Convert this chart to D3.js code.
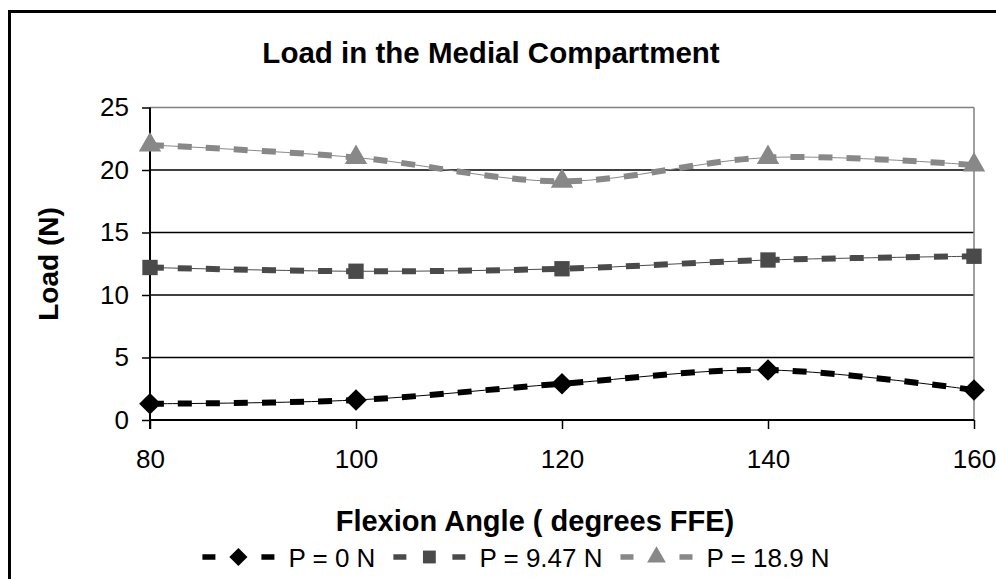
<!DOCTYPE html>
<html>
<head>
<meta charset="utf-8">
<script src="https://cdn.jsdelivr.net/npm/d3@7"></script>
<style>
  body { margin: 0; background: #fff; }
  text { font-family: "Liberation Sans", Arial, sans-serif; }
</style>
</head>
<body>
<svg id="chart" width="996" height="579"></svg>
<script>
var angles = [80, 100, 120, 140, 160];
var load0 = [1.3, 1.6, 2.9, 4.0, 2.4];
var load947 = [12.2, 11.9, 12.1, 12.8, 13.1];
var load189 = [22.0, 21.0, 19.1, 21.0, 20.4];
var seriesNames = ["P = 0 N", "P = 9.47 N", "P = 18.9 N"];
var yTicks = [0, 5, 10, 15, 20, 25];
var xTicks = [80, 100, 120, 140, 160];

var series = [
    { name: seriesNames[0], values: load0, color: "#000000", symbol: d3.symbolDiamond2, size: 300 },
    { name: seriesNames[1], values: load947, color: "#4a4a4a", symbol: d3.symbolSquare2, size: 300 },
    { name: seriesNames[2], values: load189, color: "#888888", symbol: d3.symbolTriangle2, size: 360 }
];

var svg = d3.select("#chart"),
    width = +svg.attr("width"),
    height = +svg.attr("height"),
    margin = { top: 107.5, right: 22, bottom: 159, left: 150 };

// outer chart border (runs off the right and bottom edges)
svg.append("rect")
    .attr("x", 9.5).attr("y", 11.5)
    .attr("width", 1000).attr("height", 600)
    .attr("fill", "none")
    .attr("stroke", "#000")
    .attr("stroke-width", 3);

var x = d3.scaleLinear()
    .domain([80, 160])
    .range([margin.left, width - margin.right]);

var y = d3.scaleLinear()
    .domain([0, 25])
    .range([height - margin.bottom, margin.top]);

// gridlines
svg.append("g")
    .selectAll("line")
    .data(yTicks.filter(function (d) { return d > 0; }))
    .enter().append("line")
    .attr("x1", x(80)).attr("x2", x(160))
    .attr("y1", function (d) { return y(d); })
    .attr("y2", function (d) { return y(d); })
    .attr("stroke", function (d) { return d === 25 ? "#808080" : "#000"; })
    .attr("stroke-width", 1.5);

// right plot border
svg.append("line")
    .attr("x1", x(160)).attr("x2", x(160))
    .attr("y1", y(25)).attr("y2", y(0))
    .attr("stroke", "#808080")
    .attr("stroke-width", 1.5);

// axes
var yAxis = svg.append("g")
    .attr("transform", "translate(" + x(80) + ",0)")
    .call(d3.axisLeft(y).tickValues(yTicks).tickSize(8).tickPadding(13));
var xAxis = svg.append("g")
    .attr("transform", "translate(0," + y(0) + ")")
    .call(d3.axisBottom(x).tickValues(xTicks).tickSize(9).tickPadding(21));

[yAxis, xAxis].forEach(function (g) {
    g.select(".domain").remove();
    g.selectAll(".tick line").attr("stroke", "#000").attr("stroke-width", 1.5);
    g.selectAll(".tick text")
        .attr("fill", "#000")
        .style("font-size", "26px")
        .style("font-family", "Liberation Sans, Arial, sans-serif");
});
yAxis.append("line")
    .attr("x1", 0).attr("x2", 0).attr("y1", y(0) + 9).attr("y2", y(25))
    .attr("stroke", "#000").attr("stroke-width", 2);
xAxis.append("line")
    .attr("x1", x(80)).attr("x2", x(160)).attr("y1", 0).attr("y2", 0)
    .attr("stroke", "#000").attr("stroke-width", 2);

// titles
svg.append("text")
    .attr("x", 491).attr("y", 63)
    .attr("text-anchor", "middle")
    .style("font-size", "29.5px").style("font-weight", "bold")
    .text("Load in the Medial Compartment");

svg.append("text")
    .attr("x", 535).attr("y", 531)
    .attr("text-anchor", "middle")
    .style("font-size", "29px").style("font-weight", "bold")
    .text("Flexion Angle ( degrees FFE)");

svg.append("text")
    .attr("transform", "translate(58,264) rotate(-90)")
    .attr("text-anchor", "middle")
    .style("font-size", "28px").style("font-weight", "bold")
    .text("Load (N)");

// lines
var line = d3.line()
    .curve(d3.curveCardinal.tension(0))
    .x(function (d, i) { return x(angles[i]); })
    .y(function (d) { return y(d); });

series.forEach(function (s) {
    svg.append("path")
        .datum(s.values)
        .attr("fill", "none")
        .attr("stroke", s.color)
        .attr("stroke-width", 1)
        .attr("d", line);
    svg.append("path")
        .datum(s.values)
        .attr("fill", "none")
        .attr("stroke", s.color)
        .attr("stroke-width", 6)
        .attr("stroke-dasharray", "14,14")
        .attr("d", line);
    svg.append("g")
        .selectAll("path")
        .data(s.values)
        .enter().append("path")
        .attr("transform", function (d, i) { return "translate(" + x(angles[i]) + "," + y(d) + ")"; })
        .attr("d", d3.symbol().type(s.symbol).size(s.size))
        .attr("fill", s.color);
});

// legend
var legend = svg.append("g");
var lx = 0, sampleW = 72, legY = 557;
var items = legend.selectAll("g")
    .data(series)
    .enter().append("g");
items.each(function (s) {
    var g = d3.select(this);
    g.append("line")
        .attr("x1", 0).attr("x2", sampleW)
        .attr("y1", 0).attr("y2", 0)
        .attr("stroke", s.color)
        .attr("stroke-width", 5.5)
        .attr("stroke-dasharray", "13,46");
    g.append("path")
        .attr("transform", "translate(" + sampleW / 2 + ",0)")
        .attr("d", d3.symbol().type(s.symbol).size(s.size * 0.7))
        .attr("fill", s.color);
    var t = g.append("text")
        .attr("x", sampleW + 14)
        .attr("y", 9.5)
        .style("font-size", "26px")
        .text(s.name);
    g.attr("transform", "translate(" + lx + "," + legY + ")");
    lx += sampleW + 14 + t.node().getComputedTextLength() + 18;
});
legend.attr("transform", "translate(" + (516 - (lx - 18) / 2) + ",0)");
</script>
</body>
</html>
